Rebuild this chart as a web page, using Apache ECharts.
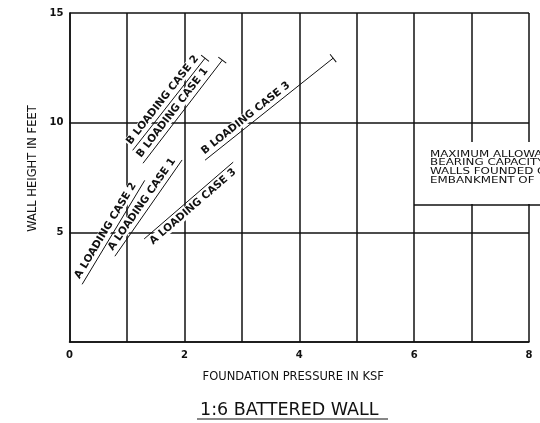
<!DOCTYPE html>
<html>
<head>
<meta charset="utf-8">
<script src="https://cdn.jsdelivr.net/npm/echarts@6/dist/echarts.min.js"></script>
<style>
  html, body { margin: 0; padding: 0; background: #fff; }
  #chart { width: 540px; height: 423px; }
</style>
</head>
<body>
<div id="chart"></div>
<script>
// curve names and end points [pressure ksf, wall height ft]
var curveNames = ['A LOADING CASE 2', 'A LOADING CASE 1', 'A LOADING CASE 3',
                  'B LOADING CASE 2', 'B LOADING CASE 1', 'B LOADING CASE 3'];
var curveX = [[0.22, 1.31], [0.79, 1.96], [1.3, 2.85],
              [1.1, 2.36], [1.28, 2.66], [2.36, 4.59]];
var curveY = [[2.63, 7.37], [3.91, 8.3], [4.7, 8.2],
              [8.74, 12.94], [8.15, 12.85], [8.29, 12.94]];
var endCap = [false, false, false, true, true, true];
var labelBelow = [false, false, true, false, false, false];

// tick labels
var xTicks = [0, 2, 4, 6, 8];
var yTicks = [5, 10, 15];

var noteLines = ['MAXIMUM ALLOWABLE', 'BEARING CAPACITY FOR', 'WALLS FOUNDED ON', 'EMBANKMENT OF'];

var font = 'DejaVu Sans';
var capPath = 'path://M10,0L10,0ZM0,9H20V11H0ZM10,20L10,20Z';

var chart = echarts.init(document.getElementById('chart'));

var series = curveNames.map(function (name, i) {
  var p1 = [curveX[i][0], curveY[i][0]];
  var p2 = [curveX[i][1], curveY[i][1]];
  return {
    name: name,
    type: 'line',
    data: [p1, p2],
    showSymbol: false,
    silent: true,
    lineStyle: { color: '#111', width: 1 },
    markLine: {
      silent: true,
      symbol: ['none', endCap[i] ? capPath : 'none'],
      symbolSize: 10,
      lineStyle: { color: '#111', width: 0, type: 'solid' },
      label: {
        show: true,
        formatter: name,
        position: labelBelow[i] ? 'insideStartBottom' : 'insideStartTop',
        distance: 2,
        color: '#111',
        fontFamily: font,
        fontSize: 10.5,
        fontWeight: 'bold',
        backgroundColor: '#fff',
        padding: [0, 1]
      },
      data: [[{ coord: p1 }, { coord: p2 }]]
    }
  };
});

chart.setOption({
  animation: false,
  backgroundColor: '#fff',
  title: {
    text: '1:6 BATTERED WALL',
    left: 195,
    top: 396,
    textStyle: { fontFamily: font, fontSize: 17.5, fontWeight: 'normal', color: '#111' }
  },
  grid: { left: 69.5, right: 11, top: 13, bottom: 81 },
  xAxis: {
    type: 'value',
    min: 0,
    max: 8,
    interval: 1,
    name: 'FOUNDATION PRESSURE IN KSF',
    nameLocation: 'middle',
    nameGap: 29,
    nameTextStyle: { fontFamily: font, fontSize: 11.5, color: '#111', padding: [0, 12, 0, 0] },
    axisLine: { lineStyle: { color: '#111', width: 1.5 } },
    axisTick: { show: false },
    axisLabel: {
      margin: 8,
      fontFamily: font,
      fontSize: 10,
      fontWeight: 'bold',
      color: '#111',
      formatter: function (v) { return xTicks.indexOf(v) >= 0 ? String(v) : ''; }
    },
    splitLine: { show: true, lineStyle: { color: '#111', width: 1.5 } }
  },
  yAxis: {
    type: 'value',
    min: 0,
    max: 15,
    interval: 5,
    name: 'WALL HEIGHT IN FEET',
    nameLocation: 'middle',
    nameGap: 30,
    nameTextStyle: { fontFamily: font, fontSize: 11.5, color: '#111', padding: [0, 0, 0, 18] },
    axisLine: { show: true, lineStyle: { color: '#111', width: 1.5 } },
    axisTick: { show: false },
    axisLabel: {
      margin: 6,
      fontFamily: font,
      fontSize: 10,
      fontWeight: 'bold',
      color: '#111',
      formatter: function (v) { return yTicks.indexOf(v) >= 0 ? String(v) : ''; }
    },
    splitLine: { show: true, lineStyle: { color: '#111', width: 1.5 } }
  },
  graphic: [
    {
      type: 'rect',
      z: 100,
      shape: { x: 415, y: 142, width: 130, height: 62 },
      style: { fill: '#fff' }
    },
    {
      type: 'line',
      z: 101,
      shape: { x1: 414, y1: 205, x2: 540, y2: 205 },
      style: { stroke: '#111', lineWidth: 1.5 }
    },
    {
      type: 'text',
      z: 101,
      x: 430,
      y: 150,
      scaleX: 1.25,
      style: {
        text: noteLines.join('\n'),
        font: '9.5px "DejaVu Sans"',
        lineHeight: 8.6,
        fill: '#111'
      }
    },
    {
      type: 'line',
      z: 101,
      shape: { x1: 197, y1: 419, x2: 388, y2: 419 },
      style: { stroke: '#111', lineWidth: 1.2 }
    }
  ],
  series: series
});
</script>
</body>
</html>
